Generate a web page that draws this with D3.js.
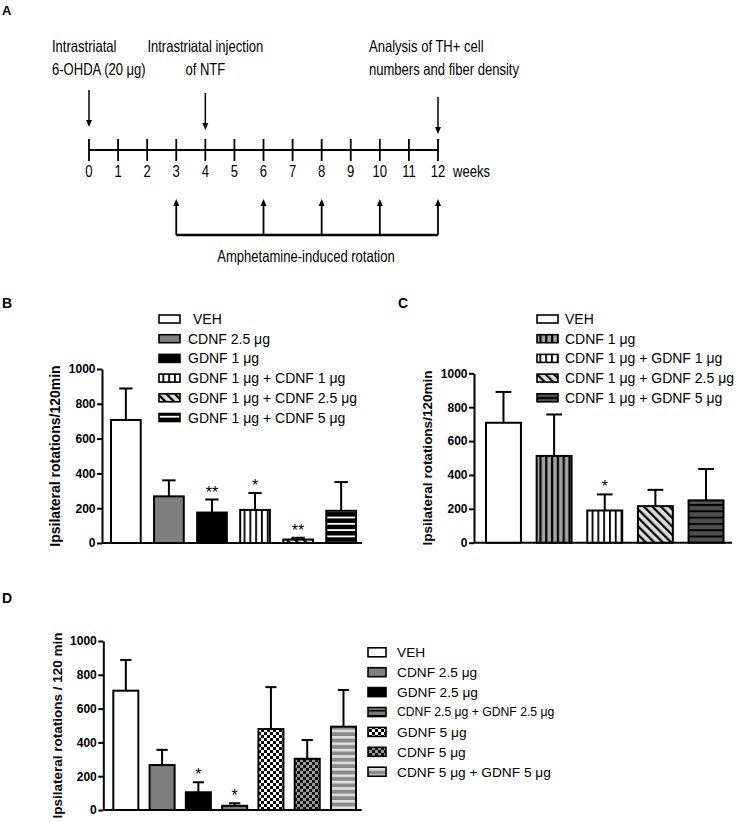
<!DOCTYPE html>
<html>
<head>
<meta charset="utf-8">
<script src="https://cdnjs.cloudflare.com/ajax/libs/d3/7.8.5/d3.min.js"></script>
<style>
body { margin: 0; background: #fff; }
svg { font-family: "Liberation Sans", Arial, sans-serif; }
</style>
</head>
<body>
<div class="container"></div>
<script>
// panel A - timeline
const weeks = [0, 1, 2, 3, 4, 5, 6, 7, 8, 9, 10, 11, 12]
const eventWeeks = [0, 4, 12]
const eventLabels = [
	['Intrastriatal', '6-OHDA (20 μg)'],
	['Intrastriatal injection', 'of NTF'],
	['Analysis of TH+ cell', 'numbers and fiber density']
]
const rotationWeeks = [3, 6, 8, 10, 12]
const rotationLabel = 'Amphetamine-induced rotation'

// panel B
const bGroups = ['VEH', 'CDNF 2.5 μg', 'GDNF 1 μg', 'GDNF 1 μg + CDNF 1 μg', 'GDNF 1 μg + CDNF 2.5 μg', 'GDNF 1 μg + CDNF 5 μg']
const bMeans = [707, 268, 175, 190, 20, 185]
const bSem = [181, 92, 75, 97, 10, 165]
const bStars = ['', '', '**', '*', '**', '']

// panel C
const cGroups = ['VEH', 'CDNF 1 μg', 'CDNF 1 μg + GDNF 1 μg', 'CDNF 1 μg + GDNF 2.5 μg', 'CDNF 1 μg + GDNF 5 μg']
const cMeans = [708, 512, 190, 216, 250]
const cSem = [182, 245, 95, 96, 185]
const cStars = ['', '', '*', '', '']

// panel D
const dGroups = ['VEH', 'CDNF 2.5 μg', 'GDNF 2.5 μg', 'CDNF 2.5 μg + GDNF 2.5 μg', 'GDNF 5 μg', 'CDNF 5 μg', 'CDNF 5 μg + GDNF 5 μg']
const dMeans = [706, 266, 105, 25, 479, 303, 493]
const dSem = [182, 90, 59, 15, 248, 111, 217]
const dStars = ['', '', '*', '*', '', '', '']

const yTicks = [0, 200, 400, 600, 800, 1000]

let svg = d3.select('.container')
	.append('svg')
	.attr('width', 750)
	.attr('height', 822)

let defs = svg.append('defs')

function pattern(id, w, h, bg, draw, rot) {
	let p = defs.append('pattern')
		.attr('id', id)
		.attr('patternUnits', 'userSpaceOnUse')
		.attr('width', w)
		.attr('height', h)
	if (rot) p.attr('patternTransform', 'rotate(' + rot + ')')
	p.append('rect').attr('width', w).attr('height', h).attr('fill', bg)
	draw(p)
}

let stripe = (wd, h, col) => p => p.append('rect').attr('width', wd).attr('height', h).attr('fill', col)
let checker = col => p => {
	p.append('rect').attr('width', 3).attr('height', 3).attr('fill', col)
	p.append('rect').attr('x', 3).attr('y', 3).attr('width', 3).attr('height', 3).attr('fill', col)
}

pattern('vstripeW', 5.8, 6, '#fff', stripe(1.8, 6, '#000'))
pattern('vstripeG', 5.8, 6, '#a3a3a3', stripe(2.2, 6, '#000'))
pattern('diag', 6, 6, '#dcdcdc', stripe(2.2, 6, '#000'), -45)
pattern('hstripeB', 6, 6.3, '#000', stripe(6, 1.8, '#fff'))
pattern('hstripeD', 6, 6.3, '#505050', stripe(6, 2, '#000'))
pattern('hstripeM', 6, 5, '#7a7a7a', stripe(6, 1.5, '#000'))
pattern('hstripeL', 6, 6.4, '#8a8a8a', stripe(6, 2.6, '#dedede'))
pattern('checkW', 6, 6, '#fff', checker('#000'))
pattern('checkG', 6, 6, '#9a9a9a', checker('#111'))

// ---------- panel A ----------
let font = 16.3
let squeeze = 0.8

function narrowText(x, y, txt, anchor) {
	svg.append('text')
		.attr('transform', 'translate(' + x + ',' + y + ') scale(' + squeeze + ',1)')
		.attr('text-anchor', anchor || 'start')
		.style('font-size', font + 'px')
		.text(txt)
}

let tx = d3.scaleLinear().domain([0, 12]).range([89, 438])
let lineY = 150

svg.append('text').attr('x', 2).attr('y', 15)
	.style('font-weight', 'bold').style('font-size', '13px').text('A')

svg.append('line')
	.attr('x1', tx(0)).attr('x2', tx(12))
	.attr('y1', lineY).attr('y2', lineY)
	.attr('stroke', '#000').attr('stroke-width', 2)

svg.selectAll('.tl-tick')
	.data(weeks)
	.enter()
	.append('line')
	.attr('class', 'tl-tick')
	.attr('x1', d => tx(d)).attr('x2', d => tx(d))
	.attr('y1', lineY - 11).attr('y2', lineY + 11)
	.attr('stroke', '#000').attr('stroke-width', 1.8)

weeks.forEach(w => narrowText(tx(w), 177, String(w), 'middle'))
narrowText(453, 177, 'weeks')

// event arrows (pointing down)
let arrowTops = [90, 93, 97]
let labelOffsets = [[-37, 'start'], [0, 'middle'], [-69, 'start']]
eventWeeks.forEach((w, i) => {
	let x = tx(w)
	let tip = arrowTops[i] + 37
	svg.append('line')
		.attr('x1', x).attr('x2', x)
		.attr('y1', arrowTops[i]).attr('y2', tip - 5)
		.attr('stroke', '#000').attr('stroke-width', 1.5)
	svg.append('path')
		.attr('d', `M${x - 3},${tip - 7}L${x + 3},${tip - 7}L${x},${tip}Z`)
		.attr('fill', '#000')
	let lx = x + labelOffsets[i][0]
	narrowText(lx, 52, eventLabels[i][0], labelOffsets[i][1])
	narrowText(lx, 75, eventLabels[i][1], labelOffsets[i][1])
})

// rotation bracket (arrows pointing up)
let bracketY = 235
svg.append('line')
	.attr('x1', tx(rotationWeeks[0])).attr('x2', tx(rotationWeeks[rotationWeeks.length - 1]))
	.attr('y1', bracketY).attr('y2', bracketY)
	.attr('stroke', '#000').attr('stroke-width', 2.5)

rotationWeeks.forEach(w => {
	let x = tx(w)
	let tip = 199
	svg.append('line')
		.attr('x1', x).attr('x2', x)
		.attr('y1', bracketY).attr('y2', tip + 5)
		.attr('stroke', '#000').attr('stroke-width', 1.8)
	svg.append('path')
		.attr('d', `M${x - 3},${tip + 7}L${x + 3},${tip + 7}L${x},${tip}Z`)
		.attr('fill', '#000')
})

narrowText(306, 262, rotationLabel, 'middle')

// ---------- bar panels ----------
function drawPanel(cfg) {
	let x = d3.scaleBand()
		.domain(cfg.groups)
		.range(cfg.bandRange)
		.paddingInner(0.31)
		.paddingOuter(0)
	let y = d3.scaleLinear().domain([0, 1000]).range([cfg.y0, cfg.y1])
	let bw = x.bandwidth()

	svg.append('text').attr('x', cfg.letter[1]).attr('y', cfg.letter[2])
		.style('font-weight', 'bold').style('font-size', '14px').text(cfg.letter[0])

	let ax = svg.append('g')
		.attr('transform', 'translate(' + cfg.axisX + ',0)')
		.call(d3.axisLeft(y).tickValues(yTicks).tickFormat(d3.format('d'))
			.tickSize(5).tickSizeOuter(0).tickPadding(1.5))
	ax.selectAll('path, line').attr('stroke', '#000').attr('stroke-width', 2)
	ax.selectAll('text')
		.style('font-family', '"Liberation Sans", Arial, sans-serif')
		.style('font-size', '12px')
		.style('font-weight', 'bold')
		.attr('fill', '#000')

	svg.append('line')
		.attr('x1', cfg.axisX).attr('x2', cfg.axisEnd)
		.attr('y1', y(0)).attr('y2', y(0))
		.attr('stroke', '#000').attr('stroke-width', 2)

	svg.append('text')
		.attr('transform', 'translate(' + cfg.titleX + ',' + (cfg.y0 + cfg.y1) / 2 + ') rotate(-90)')
		.attr('text-anchor', 'middle')
		.style('font-weight', 'bold')
		.style('font-size', cfg.titleSize + 'px')
		.text(cfg.title)

	let g = svg.append('g')
	cfg.groups.forEach((name, i) => {
		let m = cfg.means[i]
		let top = m + cfg.sem[i]
		let cx = x(name) + bw / 2
		let cap = bw * 0.45
		g.append('line')
			.attr('x1', cx).attr('x2', cx)
			.attr('y1', y(m)).attr('y2', y(top))
			.attr('stroke', '#000').attr('stroke-width', 2)
		g.append('line')
			.attr('x1', cx - cap / 2).attr('x2', cx + cap / 2)
			.attr('y1', y(top)).attr('y2', y(top))
			.attr('stroke', '#000').attr('stroke-width', 2)
		g.append('rect')
			.attr('x', x(name))
			.attr('y', y(m))
			.attr('width', bw)
			.attr('height', y(0) - y(m))
			.attr('fill', cfg.fills[i])
			.attr('stroke', '#000')
			.attr('stroke-width', 2)
		if (cfg.stars[i]) {
			g.append('text')
				.attr('x', cx).attr('y', y(top) - 2)
				.attr('text-anchor', 'middle')
				.style('font-size', '16px')
				.text(cfg.stars[i])
		}
	})

	let lg = svg.append('g')
	cfg.groups.forEach((name, i) => {
		let cy = cfg.legY + i * cfg.legStep
		lg.append('rect')
			.attr('x', cfg.legX).attr('y', cy - cfg.swH / 2)
			.attr('width', cfg.swW).attr('height', cfg.swH)
			.attr('fill', cfg.fills[i])
			.attr('stroke', '#000').attr('stroke-width', 1.6)
		let fs = cfg.legSize(name)
		lg.append('text')
			.attr('x', cfg.legX + cfg.swW + cfg.legGap + (i === 0 ? cfg.vehShift : 0))
			.attr('y', cy + fs * 0.36)
			.style('font-size', fs + 'px')
			.text(name)
	})
}

drawPanel({
	letter: ['B', 2, 308],
	groups: bGroups, means: bMeans, sem: bSem, stars: bStars,
	fills: ['#fff', '#7f7f7f', '#000', 'url(#vstripeW)', 'url(#diag)', 'url(#hstripeB)'],
	bandRange: [111, 356], axisX: 102, axisEnd: 362, y0: 543, y1: 369,
	title: 'Ipsilateral rotations/120min', titleX: 60, titleSize: 14,
	legX: 159, legY: 319, legStep: 19.7, swW: 21, swH: 8, legGap: 8, vehShift: 5,
	legSize: () => 14
})

drawPanel({
	letter: ['C', 398, 308],
	groups: cGroups, means: cMeans, sem: cSem, stars: cStars,
	fills: ['#fff', 'url(#vstripeG)', 'url(#vstripeW)', 'url(#diag)', 'url(#hstripeD)'],
	bandRange: [486, 723.5], axisX: 474, axisEnd: 732, y0: 542.7, y1: 373.3,
	title: 'Ipsilateral rotations/120min', titleX: 432, titleSize: 13.5,
	legX: 537, legY: 319, legStep: 19.7, swW: 21, swH: 8, legGap: 7, vehShift: 0,
	legSize: () => 14
})

drawPanel({
	letter: ['D', 2, 603],
	groups: dGroups, means: dMeans, sem: dSem, stars: dStars,
	fills: ['#fff', '#7f7f7f', '#000', 'url(#hstripeM)', 'url(#checkW)', 'url(#checkG)', 'url(#hstripeL)'],
	bandRange: [113.3, 356], axisX: 103.3, axisEnd: 361.7, y0: 810, y1: 641,
	title: 'Ipsilateral rotations / 120 min', titleX: 62, titleSize: 13.5,
	legX: 368, legY: 652.3, legStep: 19.9, swW: 18, swH: 9, legGap: 11, vehShift: 0,
	legSize: name => name.length > 22 ? 12.2 : 13.7
})
</script>
</body>
</html>
